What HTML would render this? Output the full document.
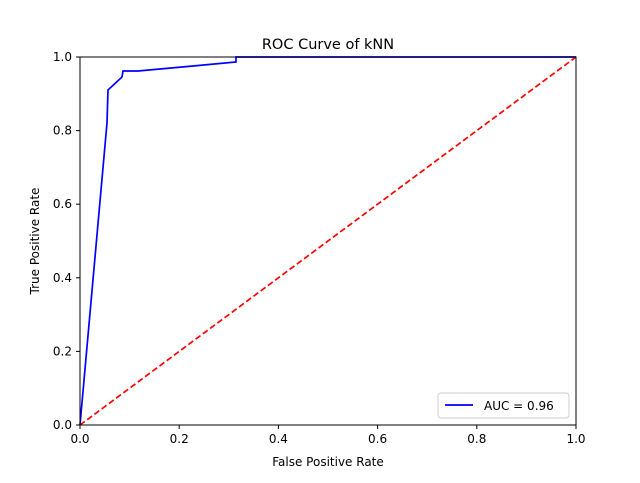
<!DOCTYPE html><html><head><style>body{margin:0;background:#fff}</style></head><body>
<svg width="640" height="478" xmlns="http://www.w3.org/2000/svg" font-family="'DejaVu Sans','Liberation Sans',sans-serif">
<rect width="640" height="478" fill="#fff"/>
<text x="328" y="49" font-size="14.5" text-anchor="middle">ROC Curve of kNN</text>
<polyline fill="none" stroke="#0000ff" stroke-width="1.7" points="80,425 107,123 108,90 122,77 123,71 138,71 193,66 236,62 236,57 576,57"/>
<line x1="80" y1="425" x2="576" y2="57" stroke="#ff0000" stroke-width="1.7" stroke-dasharray="6,3"/>
<rect x="80" y="57" width="496" height="368" fill="none" stroke="#000" stroke-width="1"/>
<g stroke="#000">
<line x1="80" y1="425" x2="80" y2="429"/><line x1="179.2" y1="425" x2="179.2" y2="429"/><line x1="278.4" y1="425" x2="278.4" y2="429"/><line x1="377.6" y1="425" x2="377.6" y2="429"/><line x1="476.8" y1="425" x2="476.8" y2="429"/><line x1="576" y1="425" x2="576" y2="429"/>
<line x1="76" y1="425" x2="80" y2="425"/><line x1="76" y1="351.4" x2="80" y2="351.4"/><line x1="76" y1="277.8" x2="80" y2="277.8"/><line x1="76" y1="204.2" x2="80" y2="204.2"/><line x1="76" y1="130.6" x2="80" y2="130.6"/><line x1="76" y1="57" x2="80" y2="57"/>
</g>
<g font-size="12" text-anchor="middle">
<text x="80" y="443">0.0</text><text x="179.2" y="443">0.2</text><text x="278.4" y="443">0.4</text><text x="377.6" y="443">0.6</text><text x="476.8" y="443">0.8</text><text x="576" y="443">1.0</text>
<text x="328" y="466">False Positive Rate</text>
</g>
<g font-size="12" text-anchor="end">
<text x="72" y="429">0.0</text><text x="72" y="355.4">0.2</text><text x="72" y="281.8">0.4</text><text x="72" y="208.2">0.6</text><text x="72" y="134.6">0.8</text><text x="72" y="61">1.0</text>
</g>
<text transform="translate(39,241) rotate(-90)" font-size="12" text-anchor="middle">True Positive Rate</text>
<rect x="438" y="393" width="131" height="25" rx="3" fill="#fff" stroke="#ccc"/>
<line x1="445" y1="405" x2="473" y2="405" stroke="#0000ff" stroke-width="1.7"/>
<text x="484" y="410" font-size="12">AUC = 0.96</text>
</svg></body></html>
